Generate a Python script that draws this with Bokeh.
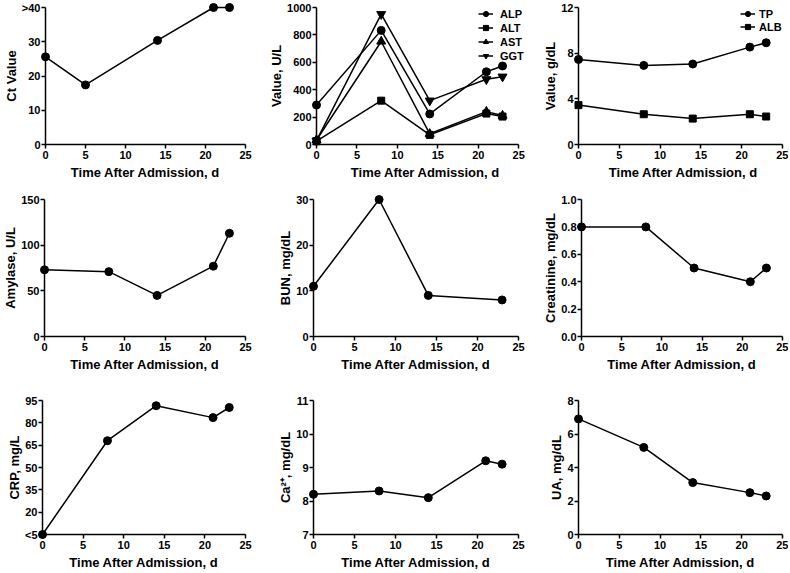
from bokeh.plotting import figure
from bokeh.layouts import row, column
from bokeh.models import FixedTicker, Range1d, Legend, LegendItem, NumeralTickFormatter
from bokeh.embed import file_html
from bokeh.resources import INLINE

FONT = "Liberation Sans"

# ---------------- data ----------------
x_ticks = [0, 5, 10, 15, 20, 25]
x_label = "Time After Admission, d"

days_ct = [0, 5, 14, 21, 23]
ct_value = [25.6, 17.4, 30.4, 40, 40]
ct_ticks = [0, 10, 20, 30, 40]
ct_labels = ["0", "10", "20", "30", ">40"]

days = [0, 8, 14, 21, 23]
alp = [288, 833, 223, 531, 573]
alt = [24, 320, 70, 226, 204]
ast = [33, 752, 78, 240, 211]
ggt = [28, 951, 320, 476, 495]
liver_ticks = [0, 200, 400, 600, 800, 1000]

tp = [7.45, 6.93, 7.05, 8.53, 8.91]
alb = [3.45, 2.65, 2.27, 2.65, 2.45]
protein_ticks = [0, 4, 8, 12]

amylase = [73, 71, 45, 77, 113]
amylase_ticks = [0, 50, 100, 150]

days_bun = [0, 8, 14, 23]
bun = [11, 30, 9, 8]
bun_ticks = [0, 10, 20, 30]

creatinine = [0.8, 0.8, 0.5, 0.4, 0.5]
creat_ticks = [0, 0.2, 0.4, 0.6, 0.8, 1.0]

crp = [5, 68, 91.5, 83.5, 90.3]
crp_ticks = [5, 20, 35, 50, 65, 80, 95]
crp_labels = ["<5", "20", "35", "50", "65", "80", "95"]

calcium = [8.2, 8.3, 8.1, 9.2, 9.1]
ca_ticks = [7, 8, 9, 10, 11]

ua = [6.9, 5.2, 3.1, 2.5, 2.3]
ua_ticks = [0, 2, 4, 6, 8]

# ---------------- layout ----------------
COLS = [(266, 42, 21), (274, 47, 22), (248, 38, 6)]  # width, left, right
ROWS = [(192, 7, 48), (201, 7, 57), (179, 7, 37)]    # height, top, bottom


def make(col, r, ticks, label, labels=None, fmt=None, room_right=0):
    # room_right: extra frame pixels right of the x axis end (legend room)
    w, left, right = COLS[col]
    h, top, bottom = ROWS[r]
    right -= room_right
    fw = w - left - right
    lo, hi = ticks[0], ticks[-1]
    x_end = 25 * fw / (fw - room_right)
    p = figure(width=w, height=h, output_backend="svg", toolbar_location=None,
               x_range=Range1d(0, x_end), y_range=Range1d(lo, hi),
               min_border=0,
               min_border_left=left, min_border_right=right,
               min_border_top=top, min_border_bottom=bottom,
               x_axis_label=x_label, y_axis_label=label)
    p.grid.visible = False
    p.outline_line_color = None
    for ax in (p.xaxis[0], p.yaxis[0]):
        ax.axis_line_width = 1.5
        ax.axis_line_color = "black"
        ax.major_tick_line_width = 1.5
        ax.major_tick_line_color = "black"
        ax.major_tick_in = 0
        ax.major_tick_out = 4
        ax.minor_tick_line_color = None
        ax.major_label_text_font = FONT
        ax.major_label_text_font_style = "bold"
        ax.major_label_text_font_size = "11px"
        ax.major_label_text_color = "black"
        ax.axis_label_text_font = FONT
        ax.axis_label_text_font_style = "bold"
        ax.axis_label_text_font_size = "13px"
        ax.axis_label_text_color = "black"
    xa = p.xaxis[0]
    xa.ticker = FixedTicker(ticks=x_ticks)
    xa.bounds = (0, 25)
    xa.major_label_standoff = 2
    xa.axis_label_standoff = 3
    ya = p.yaxis[0]
    ya.ticker = FixedTicker(ticks=ticks)
    ya.major_label_standoff = 1
    ya.axis_label_standoff = 0
    if labels is not None:
        ya.major_label_overrides = {t: s for t, s in zip(ticks, labels)}
    if fmt is not None:
        ya.formatter = NumeralTickFormatter(format=fmt)
    return p


def series(p, x, y, marker="circle", size=8):
    l = p.line(x, y, line_color="black", line_width=1.5, level="overlay")
    s = p.scatter(x, y, marker=marker, size=size, fill_color="black",
                  line_color="black", level="overlay")
    return [l, s]


def legend(p, items, loc, item_h, spacing, standoff):
    lg = Legend(items=[LegendItem(label=k, renderers=r) for k, r in items],
                location=loc, padding=0, spacing=spacing, margin=0,
                label_height=item_h, glyph_height=item_h, glyph_width=15,
                label_width=28, label_standoff=standoff,
                border_line_color=None, background_fill_alpha=0,
                label_text_font=FONT, label_text_font_style="bold",
                label_text_font_size="11px", label_text_color="black")
    p.add_layout(lg)


# Row 1
p1 = make(0, 0, ct_ticks, "Ct Value", ct_labels)
series(p1, days_ct, ct_value)

p2 = make(1, 0, liver_ticks, "Value, U/L", room_right=16)
r_alp = series(p2, days, alp, "circle", 8)
r_alt = series(p2, days, alt, "square", 7)
r_ast = series(p2, days, ast, "triangle", 9)
r_ggt = series(p2, days, ggt, "inverted_triangle", 9)
legend(p2, [("ALP", r_alp), ("ALT", r_alt), ("AST", r_ast), ("GGT", r_ggt)],
       (162, 82), 13, 1, 7)

p3 = make(2, 0, protein_ticks, "Value, g/dL", room_right=6)
r_tp = series(p3, days, tp, "circle", 8)
r_alb = series(p3, days, alb, "square", 7)
legend(p3, [("TP", r_tp), ("ALB", r_alb)], (162, 111), 13, 0, 4)

# Row 2
p4 = make(0, 1, amylase_ticks, "Amylase, U/L")
series(p4, days, amylase)
p5 = make(1, 1, bun_ticks, "BUN, mg/dL")
series(p5, days_bun, bun)
p6 = make(2, 1, creat_ticks, "Creatinine, mg/dL", fmt="0.0")
series(p6, days, creatinine)

# Row 3
p7 = make(0, 2, crp_ticks, "CRP, mg/L", crp_labels)
series(p7, days, crp)
p8 = make(1, 2, ca_ticks, "Ca\u00b2\u207a, mg/dL")
series(p8, days, calcium)
p9 = make(2, 2, ua_ticks, "UA, mg/dL")
series(p9, days, ua)

layout = column(row(p1, p2, p3), row(p4, p5, p6), row(p7, p8, p9))

open("out.html", "w").write(file_html(layout, INLINE))
